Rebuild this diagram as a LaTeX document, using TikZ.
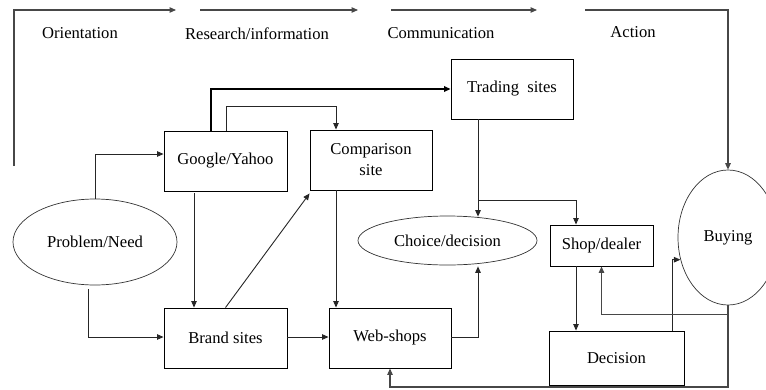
\documentclass[tikz,border=0pt]{standalone}
\usepackage{fontspec}
\setmainfont{Liberation Serif}
\usetikzlibrary{arrows.meta,shapes.geometric,calc}

\tikzset{
  base/.style={font=\fontsize{16.6}{21}\selectfont},
  box/.style={base,draw=black,line width=0.9pt,inner sep=0pt,align=center},
  oval/.style={base,draw=black!80,line width=0.7pt,ellipse,inner sep=0pt},
  stage/.style={base,inner sep=0pt},
  tip/.style={-{Triangle[length=6.5pt,width=5.5pt]}},
  link/.style={tip,draw=black!85,line width=0.9pt},
  thick link/.style={tip,draw=black,line width=1.9pt},
  flow/.style={draw=black!72,line width=1.1pt},
  flow arrow/.style={flow,tip},
}

\begin{document}
\begin{tikzpicture}[x=1pt,y=-1pt]
\useasboundingbox (0,0) rectangle (766,389);
\clip (0,0) rectangle (766,389);

% stage labels along the top
\node[stage] (orient) at (80,33) {Orientation};
\node[stage] (research) at (257,34) {Research/information};
\node[stage] (comm) at (441,33) {Communication};
\node[stage] (action) at (633,32) {Action};

% boxes and ovals
\node[oval,minimum width=164pt,minimum height=86pt] (problem) at (95,242) {Problem/Need};
\node[box,minimum width=123pt,minimum height=60pt] (google) at (225.5,161) {Google/Yahoo};
\node[box,minimum width=122pt,minimum height=60pt] (comp) at (371,160) {Comparison\\site};
\node[box,minimum width=122pt,minimum height=60pt] (trading) at (512,89) {Trading\ \ sites};
\node[box,minimum width=123pt,minimum height=60pt] (brand) at (225.5,338) {Brand sites};
\node[box,minimum width=122pt,minimum height=60pt] (web) at (390,338) {Web-shops};
\node[oval,minimum width=179pt,minimum height=49pt] (choice) at (447.5,240.5) {Choice/decision};
\node[box,minimum width=103pt,minimum height=41pt] (shop) at (601.5,245.5) {Shop/dealer};
\node[box,minimum width=135pt,minimum height=54pt] (decision) at (616.5,358) {Decision};
\node[oval,minimum width=100pt,minimum height=135pt] (buying) at (728,237.5) {Buying};

% free ends of the stage arrows
\coordinate (s0) at (14,166);
\coordinate (s1) at (14,10);
\coordinate (s2) at (176,10);
\coordinate (s3) at (200,10);
\coordinate (s4) at (358,10);
\coordinate (s5) at (391,10);
\coordinate (s6) at (537,10);
\coordinate (s7) at (585,10);
\coordinate (bot) at (600,387);

% stage arrows
\draw[flow arrow] (s0) -- (s1) -- (s2);
\draw[flow arrow] (s3) -- (s4);
\draw[flow arrow] (s5) -- (s6);
\draw[flow arrow] (s7) -| (buying.north);

% connectors
\draw[link] (problem.north) |- ([yshift=7pt]google.west);
\draw[link,shorten <=4pt] ([xshift=-7pt]problem.south) |- ([yshift=1pt]brand.west);
\draw[link,shorten <=2pt] ([xshift=-31.5pt]google.south) -- ([xshift=-31.5pt]brand.north);
\draw[link] (brand.north) -- ([yshift=-3pt]comp.south west);
\draw[link] ([xshift=-35pt]comp.south) -- ([xshift=-35pt]comp.south |- web.north);
\draw[link] ([yshift=1pt]brand.east) -- ([yshift=1pt]web.west);
\draw[thick link] ([xshift=-14.5pt]google.north) |- (trading.west);
\coordinate (gc) at ([xshift=-35pt,yshift=23pt]comp.north);
\draw[link] ([xshift=0.5pt]google.north) |- (gc) -- ([xshift=-35pt]comp.north);
\draw[link] ([xshift=-34pt]trading.south) -- ([xshift=-34pt,yshift=-1pt]trading.south |- choice.north);
\coordinate (branch) at ([xshift=-34pt,yshift=-81pt]trading.south);
\draw[link] (branch) -| ([xshift=-25.5pt]shop.north);
\draw[link] ([yshift=1pt]web.east) -| ([xshift=30.5pt,yshift=-1pt]choice.south);
\draw[link] ([xshift=-25.5pt]shop.south) -- ([xshift=-25.5pt]shop.south |- decision.north);
\draw[link] ([xshift=55.5pt]decision.north) |- (buying.205.6);
\draw[flow arrow] ([yshift=-9pt]buying.south) -| (shop.south);
\draw[flow arrow] (buying.south) -- (buying.south |- bot) -| (web.south);
\end{tikzpicture}
\end{document}
